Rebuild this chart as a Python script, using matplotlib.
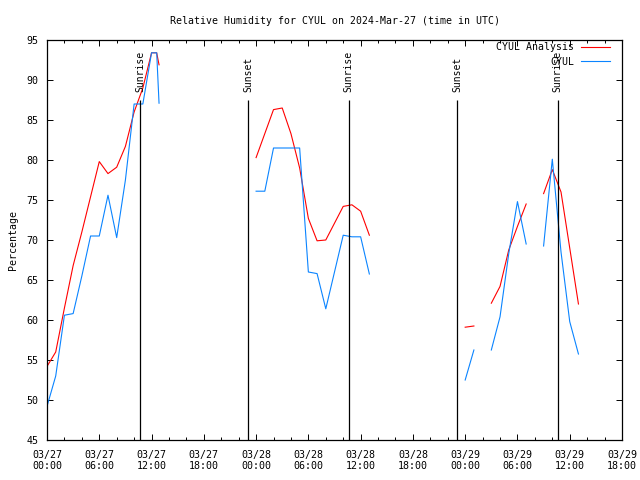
import numpy as np
import pandas as pd
import matplotlib
matplotlib.use('Agg')
import matplotlib.pyplot as plt
import matplotlib.dates as mdates

start = pd.Timestamp('2024-03-27 00:00')

# hours after 03/27 00:00 UTC, nan = gap in the record
hours = [0, 1, 2, 3, 4, 5, 6, 7, 8, 9, 10, 11, 12, 12.59, 12.86, 13,
         24, 25, 26, 27, 28, 29, 30, 31, 32, 33, 34, 35, 36, 37, 38,
         48, 49, 50,
         51, 52, 53, 54, 55, 56,
         57, 58, 59, 60, 61]

analysis = [54.2, 56.0, 61.5, 66.8, 71.0, 75.4, 79.8, 78.3, 79.1, 81.7, 86.0, 89.0, 93.4, 93.4, 91.9, np.nan,
            80.3, 83.3, 86.3, 86.5, 83.3, 79.0, 72.7, 69.9, 70.0, 72.1, 74.2, 74.4, 73.6, 70.6, np.nan,
            59.1, 59.25, np.nan,
            62.1, 64.2, 68.75, 71.7, 74.5, np.nan,
            75.8, 78.8, 76.0, 69.0, 62.0]

obs = [49.2, 53.0, 60.6, 60.8, 65.5, 70.5, 70.5, 75.6, 70.3, 77.5, 87.0, 87.0, 93.4, 93.4, 87.1, np.nan,
       76.1, 76.1, 81.5, 81.5, 81.5, 81.5, 66.0, 65.8, 61.4, 66.0, 70.6, 70.4, 70.4, 65.75, np.nan,
       52.5, 56.25, np.nan,
       56.25, 60.4, 68.3, 74.8, 69.5, np.nan,
       69.25, 80.1, 68.5, 59.8, 55.75]

sun_hours = [10.67, 23.1, 34.63, 47.1, 58.6]
sun_labels = ['Sunrise', 'Sunset', 'Sunrise', 'Sunset', 'Sunrise']

times = start + pd.to_timedelta(hours, unit='h')
sun_times = start + pd.to_timedelta(sun_hours, unit='h')

plt.rcParams['font.family'] = 'DejaVu Sans Mono'
plt.rcParams['font.size'] = 7

fig = plt.figure(figsize=(6.4, 4.8), dpi=100)
ax = fig.add_axes([47 / 640, 40 / 480, 575 / 640, 400 / 480])

ax.plot(times, analysis, color='#ff0000', lw=0.8, label='CYUL Analysis')
ax.plot(times, obs, color='#0a84ff', lw=0.8, label='CYUL')

ax.vlines(sun_times, 45, 87.5, color='black', lw=0.9)
for t, lab in zip(sun_times, sun_labels):
    ax.text(t, 88.5, lab, rotation=90, ha='center', va='bottom', fontsize=7)

ax.set_xlim(start, start + pd.Timedelta(hours=66))
ax.set_ylim(45, 95)
ax.set_yticks(np.arange(45, 96, 5))
ax.xaxis.set_major_locator(mdates.HourLocator(byhour=[0, 6, 12, 18]))
ax.xaxis.set_minor_locator(mdates.HourLocator(interval=2))
ax.xaxis.set_major_formatter(mdates.DateFormatter('%m/%d\n%H:%M'))
ax.tick_params(which='both', direction='in', top=True, right=True, labelsize=7.2, width=0.7)
ax.tick_params(which='major', length=4.5, pad=7)
ax.tick_params(axis='y', which='major', pad=6)
ax.tick_params(which='minor', length=2.5)
for lbl in ax.get_xticklabels():
    lbl.set_linespacing(1.2)
for s in ax.spines.values():
    s.set_linewidth(0.9)

ax.set_title('Relative Humidity for CYUL on 2024-Mar-27 (time in UTC)', fontsize=7.1, pad=11.5)
ax.set_ylabel('Percentage', fontsize=7.1, labelpad=6)

ax.legend(loc='upper right', bbox_to_anchor=(0.979, 0.995), frameon=False, markerfirst=False,
          handlelength=2.9, handletextpad=0.7, labelspacing=0.5, borderpad=0, borderaxespad=0,
          fontsize=7.1)

fig.savefig('out.png', dpi=100)
